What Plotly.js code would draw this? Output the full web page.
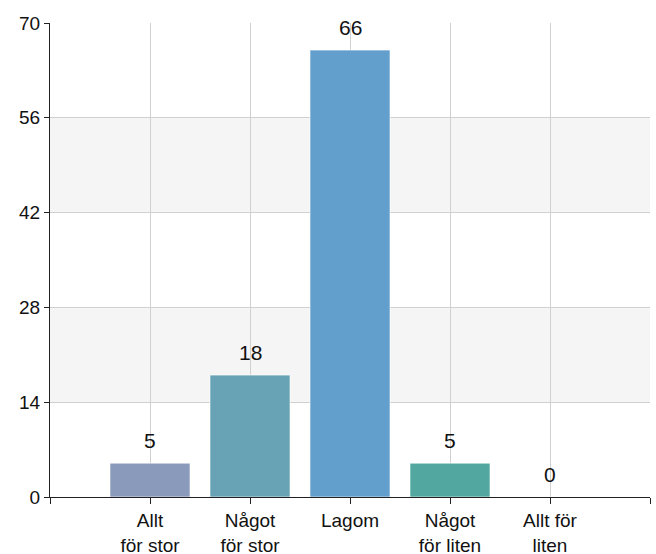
<!DOCTYPE html>
<html>
<head>
<meta charset="utf-8">
<script src="https://cdn.plot.ly/plotly-3.0.1.min.js"></script>
<style>
  html, body { margin: 0; padding: 0; background: #fff; }
  #chart { width: 656px; height: 554px; }
</style>
</head>
<body>
<div id="chart"></div>
<script>
// Answer categories and counts
const categories = ["Allt<br>för stor", "Något<br>för stor", "Lagom", "Något<br>för liten", "Allt för<br>liten"];
const counts = [5, 18, 66, 5, 0];
const barColors = ["#8a9aba", "#68a3b5", "#639fcc", "#52a8a0", "#8fb8a0"];
const yTicks = [0, 14, 28, 42, 56, 70];

const FONT = "Liberation Sans, Arial, sans-serif";
const xPos = categories.map((_, i) => i);

const trace = {
  type: "bar",
  x: xPos,
  y: counts,
  width: 0.8,
  marker: { color: barColors, line: { color: "rgba(255,255,255,0.6)", width: 1 } },
  hoverinfo: "none"
};

// Value labels sitting above each bar
const valueLabels = counts.map((v, i) => ({
  x: xPos[i], y: v, xref: "x", yref: "y",
  text: String(v), showarrow: false,
  yanchor: "bottom", yshift: 9,
  font: { family: FONT, size: 21, color: "#111" }
}));

// Alternating light bands behind the bars
const bands = [];
for (let i = 1; i < yTicks.length - 1; i += 2) {
  bands.push({
    type: "rect", xref: "paper", yref: "y", layer: "below",
    x0: 0, x1: 1, y0: yTicks[i], y1: yTicks[i + 1],
    fillcolor: "#f5f5f5", line: { width: 0 }
  });
}

const tickVals = [-1].concat(xPos, [categories.length]);
const tickText = [""].concat(categories, [""]);

const layout = {
  width: 656, height: 554,
  margin: { l: 50, r: 6, t: 23, b: 57 },
  paper_bgcolor: "#fff",
  plot_bgcolor: "rgba(0,0,0,0)",
  showlegend: false,
  font: { family: FONT, size: 19, color: "#111" },
  xaxis: {
    range: [-1, categories.length],
    tickmode: "array", tickvals: tickVals, ticktext: tickText,
    tickfont: { family: FONT, size: 19, color: "#111" },
    showgrid: true, gridcolor: "#d0d0d0", gridwidth: 1,
    showline: true, linecolor: "#222", linewidth: 1,
    ticks: "outside", ticklen: 6, tickcolor: "#222",
    zeroline: false, fixedrange: true
  },
  yaxis: {
    range: [0, 70],
    tickmode: "array", tickvals: yTicks,
    tickfont: { family: FONT, size: 19, color: "#111" },
    showgrid: true, gridcolor: "#d0d0d0", gridwidth: 1,
    showline: true, linecolor: "#222", linewidth: 1,
    ticks: "outside", ticklen: 5, tickcolor: "#222",
    zeroline: false, fixedrange: true
  },
  shapes: bands,
  annotations: valueLabels
};

Plotly.newPlot("chart", [trace], layout, { displayModeBar: false, staticPlot: true });
</script>
</body>
</html>
